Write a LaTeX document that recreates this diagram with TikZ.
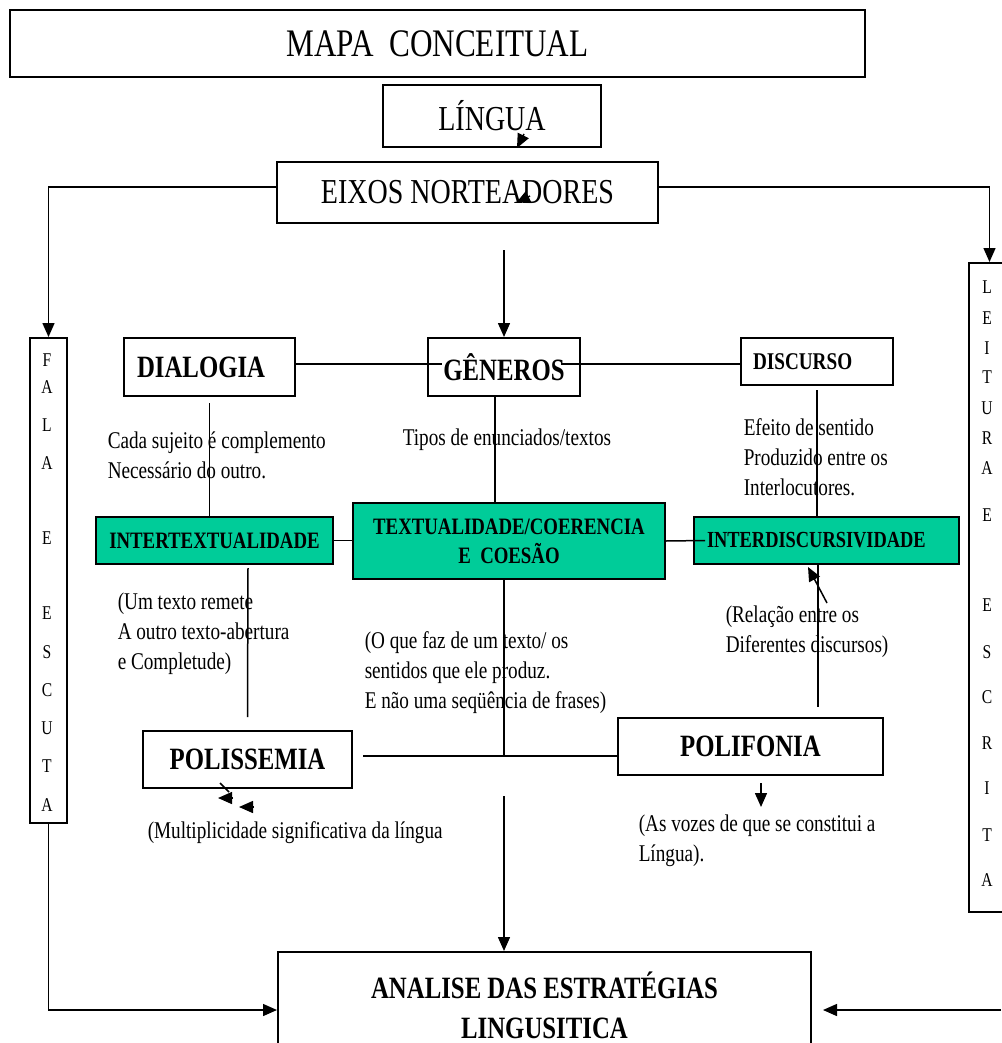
\documentclass[tikz,border=0pt]{standalone}
\usepackage{fontspec}
\setmainfont{Liberation Serif}[FakeStretch=0.8]
\usetikzlibrary{arrows.meta, positioning}
\definecolor{verde}{RGB}{0,204,153}

\begin{document}
\begin{tikzpicture}[x=1pt,y=-1pt,line width=1.5pt,->/.style={-{Triangle[length=14pt,width=12pt]}},
	caixa/.style={draw,line width=2pt,inner sep=0pt,font=\fontsize{31}{40}\selectfont\bfseries},
	caixa verde/.style={caixa,fill=verde,font=\fontsize{23.5}{29}\selectfont\bfseries},
	texto/.style={inner sep=0pt,anchor=west,align=left,font=\fontsize{24}{30}\selectfont},
	letra/.style={inner sep=0pt,font=\fontsize{19.5}{20}\selectfont}]
	\useasboundingbox (0,0) rectangle (1001,1043);
	
	% Título e nós de cima
	\node[caixa,minimum width=855pt,minimum height=67pt,font=\fontsize{39}{40}\selectfont] (titulo) at (437.5,43.5) {MAPA\ \ CONCEITUAL};
	\node[caixa,minimum width=218pt,minimum height=62pt,font=\fontsize{35}{40}\selectfont] (lingua) at (492,116) {LÍNGUA};
	\node[caixa,minimum width=381pt,minimum height=61pt,font=\fontsize{35}{40}\selectfont] (eixos) at (467.5,192.5) {EIXOS NORTEADORES};
	
	% Colunas laterais
	\node[caixa,minimum width=37pt,minimum height=485pt] (fala) at (48.5,580.5) {};
	\node[caixa,minimum width=41pt,minimum height=649pt] (leitura) at (989.5,587.5) {};
	\foreach \l/\y [count=\i] in {F/360,A/387,L/425,A/463,E/538,E/613,S/652,C/690,U/728,T/766,A/805}
		\node[letra] (f\i) at (47,\y) {\l};
	\foreach \l/\y [count=\i] in {L/287,E/318,I/348,T/377,U/408,R/438,A/468,E/515,E/605,S/652,C/697,R/743,I/788,T/835,A/880}
		\node[letra] (l\i) at (987,\y) {\l};
	
	% Segunda fila
	\node[caixa,minimum width=171pt,minimum height=58pt,text width=145pt,align=left] (dialogia) at (209.5,367) {DIALOGIA};
	\node[caixa,minimum width=152pt,minimum height=58pt] (genero) at (504,367) {GÊNEROS};
	\node[caixa,minimum width=152pt,minimum height=47pt,text width=128pt,align=left,font=\fontsize{24}{30}\selectfont\bfseries] (discurso) at (817,361.5) {DISCURSO};
	
	% Caixas verdes
	\node[caixa verde,minimum width=237pt,minimum height=47pt] (intertext) at (214.5,540.5) {INTERTEXTUALIDADE};
	\node[caixa verde,minimum width=312pt,minimum height=76pt,align=center] (textual) at (509,541) {TEXTUALIDADE/COERENCIA\\E\ \ COESÃO};
	\node[caixa verde,minimum width=265pt,minimum height=47pt,text width=239pt,align=left,font=\fontsize{23}{29}\selectfont\bfseries] (interdisc) at (826.5,540.5) {INTERDISCURSIVIDADE};
	
	% Fila de baixo
	\node[caixa,minimum width=209pt,minimum height=57pt] (polissemia) at (247.5,759.5) {POLISSEMIA};
	\node[caixa,minimum width=265pt,minimum height=57pt] (polifonia) at (750.5,746.5) {POLIFONIA};
	\node[caixa,minimum width=533pt,minimum height=106pt,align=center] (analise) at (544.5,1005) {ANALISE DAS ESTRATÉGIAS\\LINGUSITICA};
	
	% Textos soltos
	\node[texto] (cada) at (107,455) {Cada sujeito é complemento\\Necessário do outro.};
	\node[texto] (tipos) at (402,440) {Tipos de enunciados/textos};
	\node[texto] (efeito) at (743,457) {Efeito de sentido\\Produzido entre os\\Interlocutores.};
	\node[texto] (remete) at (117,634) {(Um texto remete\\A outro texto-abertura\\e Completude)};
	\node[texto] (oque) at (364,673) {(O que faz de um texto/ os\\sentidos que ele produz.\\E não uma seqüência de frases)};
	\node[texto] (relacao) at (725,632) {(Relação entre os\\Diferentes discursos)};
	\node[texto] (multi) at (147,833) {(Multiplicidade significativa da língua};
	\node[texto] (vozes) at (638,841) {(As vozes de que se constitui a\\Língua).};
	
	% Conexões
	\coordinate (m1) at (504,250);
	\coordinate (m2) at (504,796);
	\coordinate (junc) at (504,756);
	\coordinate (dir) at (1001,1010);
	\coordinate (g1) at ([xshift=-9pt]genero.south);
	\coordinate (d1) at ([xshift=-8.5pt]interdisc.south);
	\draw[->] ([yshift=5.5pt]eixos.west) -| (fala.north);
	\draw[->] ([yshift=5.5pt]eixos.east) -| (leitura.north);
	\draw[->] (m1) -- (genero.north);
	\draw ([yshift=3pt]dialogia.east) -- ([xshift=15pt,yshift=3pt]genero.west);
	\draw ([xshift=-20pt,yshift=3pt]genero.east) -- ([yshift=-2.5pt]discurso.west);
	\draw ([yshift=-6pt]dialogia.south) -- (dialogia.south |- intertext.north);
	\draw (g1) -- (g1 |- textual.north);
	\draw ([yshift=-4pt]discurso.south) -- (discurso.south |- interdisc.north);
	\draw (intertext.east) -- (textual.west |- intertext.east);
	\draw (textual.east) -- ([xshift=12pt]interdisc.west);
	\draw ([xshift=33.5pt,yshift=-3pt]intertext.south) -- ([yshift=13pt]polissemia.north);
	\draw ([xshift=-5pt]textual.south) -- (junc);
	\draw ([xshift=10pt,yshift=3.5pt]polissemia.east) -- ([yshift=-9.5pt]polifonia.west);
	\draw (d1) -- ++(0,142);
	\draw[->] (m2) -- (m2 |- analise.north);
	\draw[->] (fala.south) |- ([yshift=-5pt]analise.west);
	\draw[->] (dir) -- ([xshift=11pt,yshift=-5pt]analise.east);
	\draw[->] ([xshift=10.5pt,yshift=-7pt]polifonia.south) -- ++(0,24);
	
	% Setinhas soltas
	\coordinate (a1) at (524,134);
	\coordinate (a2) at (517,148);
	\coordinate (b1) at (530,196);
	\coordinate (b2) at (516,203);
	\coordinate (r1) at (827,603);
	\coordinate (r2) at (808,567);
	\coordinate (c1) at (220,783);
	\coordinate (c2) at (229,792);
	\coordinate (c3) at (233,798);
	\coordinate (c4) at (218,798);
	\coordinate (c5) at (254,807);
	\coordinate (c6) at (239,807);
	\draw[->] (a1) -- (a2);
	\draw[->] (b1) -- (b2);
	\draw[->] (r1) -- (r2);
	\draw (c1) -- (c2);
	\draw[->] (c3) -- (c4);
	\draw[->] (c5) -- (c6);
\end{tikzpicture}
\end{document}
